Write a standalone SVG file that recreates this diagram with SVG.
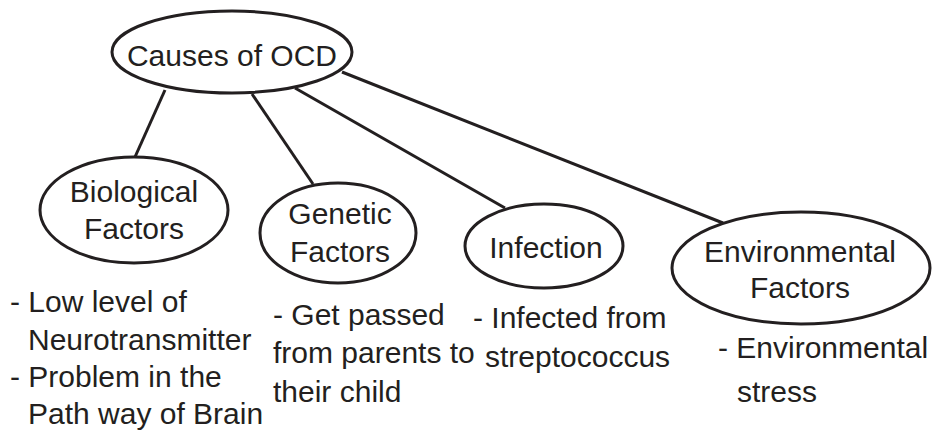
<svg xmlns="http://www.w3.org/2000/svg" width="951" height="435" viewBox="0 0 951 435">
<style>
.n{fill:#fff;stroke:#231f20;stroke-width:3}
.c line{stroke:#231f20;stroke-width:3}
text{font-family:"Liberation Sans",Arial,sans-serif;font-size:30px;fill:#231f20}
.m{text-anchor:middle}
</style>
<rect width="951" height="435" fill="#fff"/>
<g class="c" id="connectors">
<line x1="165" y1="90" x2="135" y2="157"/>
<line x1="252" y1="94" x2="313" y2="184"/>
<line x1="295" y1="88" x2="505" y2="208"/>
<line x1="342" y1="72" x2="723" y2="223"/>
</g>
<g id="causes">
<ellipse class="n" cx="232" cy="52" rx="120" ry="41"/>
<text class="m" x="232" y="66">Causes of OCD</text>
</g>
<g id="biological">
<ellipse class="n" cx="134" cy="210" rx="94" ry="53"/>
<text class="m" x="134" y="202">Biological</text>
<text class="m" x="134" y="239">Factors</text>
</g>
<g id="genetic">
<ellipse class="n" cx="338" cy="233" rx="78" ry="50"/>
<text class="m" x="340" y="224">Genetic</text>
<text class="m" x="340" y="262">Factors</text>
</g>
<g id="infection">
<ellipse class="n" cx="544" cy="246" rx="79" ry="42"/>
<text class="m" x="546" y="258">Infection</text>
</g>
<g id="environmental">
<ellipse class="n" cx="801" cy="268" rx="129" ry="56"/>
<text class="m" x="800" y="262">Environmental</text>
<text class="m" x="800" y="298">Factors</text>
</g>
<g id="notes">
<text x="10" y="312">- Low level of</text>
<text x="28" y="350">Neurotransmitter</text>
<text x="10" y="387">- Problem in the</text>
<text x="28" y="424">Path way of Brain</text>
<text x="273" y="325">- Get passed</text>
<text x="273" y="363">from parents to</text>
<text x="273" y="402">their child</text>
<text x="473" y="328">- Infected from</text>
<text x="485" y="367">streptococcus</text>
<text x="718" y="358">- Environmental</text>
<text x="737" y="402">stress</text>
</g>
</svg>
